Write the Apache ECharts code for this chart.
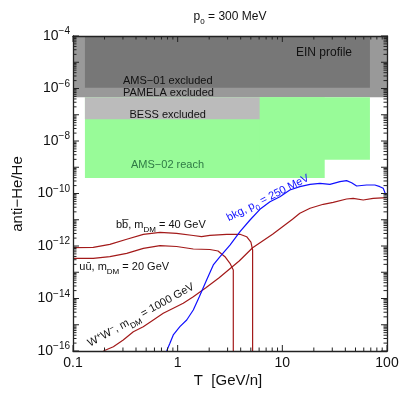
<!DOCTYPE html>
<html>
<head>
<meta charset="utf-8">
<script src="https://cdn.jsdelivr.net/npm/echarts@6/dist/echarts.min.js"></script>
<style>
  html, body { margin: 0; padding: 0; background: #fff; }
  #chart { width: 412px; height: 412px; }
</style>
</head>
<body>
<div id="chart"></div>
<script>
// kinetic energy per nucleon T [GeV/n] and anti-He/He ratio
const bbT = [0.1, 0.156, 0.225, 0.326, 0.47, 0.678, 0.977, 1.41, 1.69, 2.03, 2.94, 3.94, 4.56, 5.01, 5.2, 5.2]
const bbR = [8.6e-13, 8.9e-13, 1.16e-12, 1.8e-12, 2.79e-12, 3.33e-12, 3.05e-12, 2.51e-12, 2.26e-12, 2.56e-12, 2.79e-12, 2.79e-12, 2.26e-12, 1.42e-12, 7.05e-13, 1e-16]

const uuT = [0.1, 0.156, 0.225, 0.326, 0.47, 0.678, 0.977, 1.41, 2.03, 2.43, 2.83, 3.16, 3.4, 3.4]
const uuR = [3.4e-13, 3.4e-13, 3.91e-13, 5.27e-13, 8.17e-13, 1.04e-12, 9.57e-13, 7.69e-13, 7.36e-13, 6.46e-13, 3.91e-13, 2.19e-13, 1.22e-13, 1e-16]

const wwT = [0.195, 0.243, 0.302, 0.377, 0.469, 0.585, 0.728, 0.908, 1.13, 1.41, 1.86, 2.49, 3.87, 5.2, 8.07, 12.5, 14.7, 18.4, 24.6, 30.6, 41.1, 47.5, 59.3, 73.8, 99]
const wwR = [1e-16, 1.46e-16, 2.62e-16, 5.43e-16, 8.43e-16, 1.52e-15, 2.73e-15, 4.24e-15, 6.56e-15, 1.17e-14, 2.58e-14, 6.19e-14, 2.69e-13, 8.61e-13, 2.79e-12, 1.04e-11, 1.76e-11, 2.73e-11, 3.88e-11, 4.62e-11, 6.17e-11, 6.56e-11, 5.65e-11, 6.56e-11, 6.92e-11]

const bkgT = [0.785, 0.843, 0.908, 1.05, 1.22, 1.41, 1.61, 1.89, 2.19, 2.54, 3.16, 3.94, 4.91, 6.11, 7.62, 9.48, 11.8, 14.7, 18.4, 22.9, 28.5, 35.5, 41.1, 45.9, 51.3, 63.8, 76.6, 85.5, 92, 97.5]
const bkgR = [1e-16, 1.96e-16, 4.07e-16, 8.43e-16, 1.52e-15, 3.65e-15, 1.17e-14, 5.07e-14, 1.89e-13, 3.91e-13, 1.09e-12, 3.51e-12, 9.77e-12, 2.5e-11, 4.88e-11, 7.55e-11, 1.36e-10, 1.82e-10, 2.24e-10, 2.45e-10, 2.24e-10, 2.82e-10, 3.08e-10, 2.58e-10, 1.93e-10, 2.11e-10, 2.11e-10, 1.82e-10, 1.58e-10, 8.77e-11]

// experimental regions (drawn in this order)
const regionNames = ['PAMELA', 'AMS-01', 'AMS-02a', 'AMS-02b', 'BESS']
const regionT0 = [0.1, 0.13, 0.13, 6.07, 0.13]
const regionT1 = [100, 68.7, 25.4, 68.7, 6.07]
const regionR0 = [4.6e-7, 1.07e-6, 3.9e-10, 1.94e-9, 6.7e-8]
const regionR1 = [1e-4, 1e-4, 4.6e-7, 4.6e-7, 4.6e-7]

// axes
const xMin = 0.1, xMax = 100
const yMin = 1e-16, yMax = 1e-4
const xTickValues = [0.1, 1, 10, 100]
const xTickLabels = ['0.1', '1', '10', '100']
const yLabelExps = [-4, -6, -8, -10, -12, -14, -16]

const FONT = '"Liberation Sans", Arial, sans-serif'
const RED = '#a31a1a'
const BLUE = '#1010ff'
const regionColors = {
  'PAMELA': '#999999',
  'AMS-01': '#777777',
  'AMS-02a': '#98fb98',
  'AMS-02b': '#98fb98',
  'BESS': '#bbbbbb'
}

// tick marks: [value, axis (0 = x, 1 = y), major]
const ticks = []
for (let e = -1; e <= 2; e++) {
  ticks.push([Math.pow(10, e), 0, 1])
  if (e < 2) for (let k = 2; k <= 9; k++) ticks.push([k * Math.pow(10, e), 0, 0])
}
for (let e = -16; e <= -4; e++) {
  ticks.push([Math.pow(10, e), 1, 1])
  if (e < -4) for (let k = 2; k <= 9; k++) ticks.push([k * Math.pow(10, e), 1, 0])
}

const chart = echarts.init(document.getElementById('chart'))

function pairs(xs, ys) {
  return xs.map((x, i) => [x, ys[i]])
}

function lineSeries(name, xs, ys, color) {
  return {
    name,
    type: 'line',
    data: pairs(xs, ys),
    showSymbol: false,
    smooth: false,
    clip: true,
    z: 4,
    lineStyle: { color, width: 1.2 },
    animation: false
  }
}

const sub = { fontSize: 8, fontFamily: FONT, verticalAlign: 'bottom', padding: [0, 0, -3, 0] }

const option = {
  animation: false,
  grid: { left: 73, right: 25, top: 36, bottom: 61 },
  xAxis: [
    {
      type: 'log', logBase: 10, min: xMin, max: xMax, z: 10,
      axisLine: { show: true, lineStyle: { color: '#222', width: 1.3 } },
      axisTick: { show: false },
      splitLine: { show: false },
      axisLabel: {
        margin: 5, color: '#111', fontSize: 14, fontFamily: FONT,
        formatter: (v) => {
          const i = xTickValues.findIndex(t => Math.abs(Math.log10(t) - Math.log10(v)) < 1e-6)
          return i >= 0 ? xTickLabels[i] : ''
        }
      }
    },
    {
      type: 'log', logBase: 10, min: xMin, max: xMax, position: 'top', z: 10,
      axisLine: { show: true, lineStyle: { color: '#222', width: 1.3 } },
      axisTick: { show: false }, axisLabel: { show: false }, splitLine: { show: false }
    }
  ],
  yAxis: [
    {
      type: 'log', logBase: 10, min: yMin, max: yMax, z: 10,
      interval: 1, splitNumber: 12,
      axisLine: { show: true, lineStyle: { color: '#222', width: 1.3 } },
      axisTick: { show: false },
      splitLine: { show: false },
      axisLabel: {
        margin: 3, color: '#111', fontFamily: FONT, showMinLabel: true, showMaxLabel: true,
        formatter: (v) => {
          const e = Math.round(Math.log10(v))
          if (!yLabelExps.includes(e)) return ''
          return '{b|10}{e|' + (e < 0 ? '\u2212' : '') + Math.abs(e) + '}'
        },
        rich: {
          b: { fontSize: 14, fontFamily: FONT, color: '#111' },
          e: { fontSize: 10, fontFamily: FONT, color: '#111', verticalAlign: 'top', padding: [0, 0, 9, 0] }
        }
      }
    },
    {
      type: 'log', logBase: 10, min: yMin, max: yMax, position: 'right', z: 10,
      axisLine: { show: true, lineStyle: { color: '#222', width: 1.3 } },
      axisTick: { show: false }, axisLabel: { show: false }, splitLine: { show: false }
    }
  ],
  series: [
    {
      name: 'regions',
      type: 'custom',
      z: 1,
      clip: false,
      data: regionNames.map((n, i) => [regionT0[i], regionR0[i], regionT1[i], regionR1[i], i]),
      renderItem: (params, api) => {
        const p0 = api.coord([api.value(0), api.value(3)])
        const p1 = api.coord([api.value(2), api.value(1)])
        const name = regionNames[api.value(4)]
        return {
          type: 'rect',
          shape: { x: p0[0], y: p0[1], width: p1[0] - p0[0], height: p1[1] - p0[1] },
          style: { fill: regionColors[name] }
        }
      }
    },
    lineSeries('bb', bbT, bbR, RED),
    lineSeries('uu', uuT, uuR, RED),
    lineSeries('WW', wwT, wwR, RED),
    lineSeries('bkg', bkgT, bkgR, BLUE),
    {
      name: 'ticks',
      type: 'custom',
      z: 10,
      clip: false,
      data: ticks.map(t => t[1] === 0 ? [t[0], 1e-10, t[1], t[2]] : [1, t[0], t[1], t[2]]),
      renderItem: (params, api) => {
        const cs = params.coordSys
        const len = api.value(3) ? 6 : 3.5
        const st = { stroke: '#222', lineWidth: 1 }
        if (api.value(2) === 0) {
          const x = api.coord([api.value(0), 1e-10])[0]
          const b = cs.y + cs.height
          return {
            type: 'group', children: [
              { type: 'line', shape: { x1: x, y1: b, x2: x, y2: b - len }, style: st },
              { type: 'line', shape: { x1: x, y1: cs.y, x2: x, y2: cs.y + len }, style: st }
            ]
          }
        }
        const y = api.coord([1, api.value(1)])[1]
        const r = cs.x + cs.width
        return {
          type: 'group', children: [
            { type: 'line', shape: { x1: cs.x, y1: y, x2: cs.x + len, y2: y }, style: st },
            { type: 'line', shape: { x1: r, y1: y, x2: r - len, y2: y }, style: st }
          ]
        }
      }
    }
  ],
  graphic: [
    {
      type: 'text', x: 230, y: 17, z: 100,
      style: {
        text: '{t|p}{s|0}{t| = 300 MeV}', align: 'center', verticalAlign: 'middle',
        rich: { t: { fontSize: 12, fontFamily: FONT, fill: '#111' }, s: sub }
      }
    },
    { type: 'text', x: 324, y: 53, z: 100, style: { text: 'EIN profile', font: '12px ' + FONT, fill: '#111', align: 'center', verticalAlign: 'middle' } },
    { type: 'text', x: 123, y: 80.5, z: 100, style: { text: 'AMS\u221201 excluded', font: '11px ' + FONT, fill: '#111', align: 'left', verticalAlign: 'middle' } },
    { type: 'text', x: 123, y: 92.5, z: 100, style: { text: 'PAMELA excluded', font: '11px ' + FONT, fill: '#111', align: 'left', verticalAlign: 'middle' } },
    { type: 'text', x: 129.5, y: 115.3, z: 100, style: { text: 'BESS excluded', font: '11px ' + FONT, fill: '#111', align: 'left', verticalAlign: 'middle' } },
    { type: 'text', x: 131, y: 165.3, z: 100, style: { text: 'AMS\u221202 reach', font: '11px ' + FONT, fill: '#2f7a45', align: 'left', verticalAlign: 'middle' } },
    {
      type: 'text', x: 116, y: 225.3, z: 100,
      style: {
        text: '{t|bb\u0305, m}{s|DM}{t| = 40 GeV}', align: 'left', verticalAlign: 'middle',
        rich: { t: { fontSize: 11, fontFamily: FONT, fill: '#111' }, s: sub }
      }
    },
    {
      type: 'text', x: 79.3, y: 267, z: 100,
      style: {
        text: '{t|u\u016b, m}{s|DM}{t| = 20 GeV}', align: 'left', verticalAlign: 'middle',
        rich: { t: { fontSize: 11, fontFamily: FONT, fill: '#111' }, s: sub }
      }
    },
    {
      type: 'text', x: 141, y: 315, z: 100, rotation: 29 * Math.PI / 180,
      style: {
        text: '{t|W}{u|+}{t|W}{u|\u2212}{t|, m}{s|DM}{t| = 1000 GeV}', align: 'center', verticalAlign: 'middle',
        rich: {
          t: { fontSize: 11, fontFamily: FONT, fill: '#111' },
          s: sub,
          u: { fontSize: 8, fontFamily: FONT, fill: '#111', verticalAlign: 'top', padding: [0, 0, 5, 0] }
        }
      }
    },
    {
      type: 'text', x: 268, y: 198, z: 100, rotation: 27 * Math.PI / 180,
      style: {
        text: '{t|bkg, p}{s|0}{t| = 250 MeV}', align: 'center', verticalAlign: 'middle',
        rich: { t: { fontSize: 11, fontFamily: FONT, fill: BLUE }, s: { fontSize: 8, fontFamily: FONT, fill: BLUE, verticalAlign: 'bottom', padding: [0, 0, -3, 0] } }
      }
    },
    { type: 'text', x: 18, y: 194, z: 100, rotation: Math.PI / 2, style: { text: 'anti\u2212He/He', font: '15px ' + FONT, fill: '#111', align: 'center', verticalAlign: 'middle' } },
    { type: 'text', x: 228, y: 381, z: 100, style: { text: 'T  [GeV/n]', font: '15px ' + FONT, fill: '#111', align: 'center', verticalAlign: 'middle' } }
  ]
}

chart.setOption(option)
</script>
</body>
</html>
